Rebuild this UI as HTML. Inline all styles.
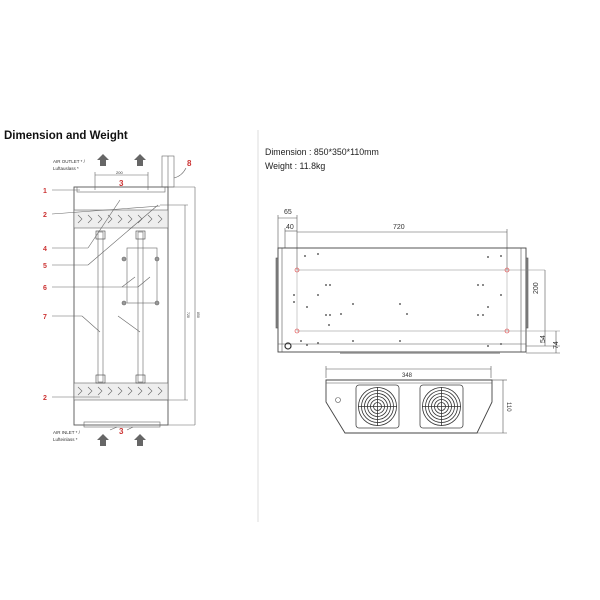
<!DOCTYPE html>
<html><head><meta charset="utf-8"><style>
html,body{margin:0;padding:0;background:#fff;}
svg{display:block;}
text{font-family:"Liberation Sans",sans-serif;}
</style></head><body>
<svg width="600" height="600" viewBox="0 0 600 600" xmlns="http://www.w3.org/2000/svg">
<rect width="600" height="600" fill="#fff"/>
<text x="4" y="139" font-size="11.5" font-weight="bold" fill="#111">Dimension and Weight</text>
<line x1="258" y1="130" x2="258" y2="522" stroke="#ddd" stroke-width="1"/>

<!-- LEFT DRAWING -->
<g stroke="#666" stroke-width="0.6" fill="none">
<text x="53" y="163" font-size="4.5" fill="#333" stroke="none">AIR OUTLET * /</text>
<text x="53" y="170" font-size="4.5" fill="#333" stroke="none">Luftauslass *</text>
<polygon points="103,154 109,160 106,160 106,166 100,166 100,160 97,160" fill="#666" stroke="none"/>
<polygon points="140,154 146,160 143,160 143,166 137,166 137,160 134,160" fill="#666" stroke="none"/>
<line x1="95" y1="175" x2="148" y2="175"/><line x1="95" y1="172" x2="95" y2="190"/><line x1="148" y1="172" x2="148" y2="190"/>
<text x="116" y="174" font-size="4" fill="#333" stroke="none">200</text>
<text x="119" y="186" font-size="8" font-weight="bold" fill="#c33" stroke="none">3</text>
<text x="187" y="166" font-size="8" font-weight="bold" fill="#c33" stroke="none">8</text>
<rect x="162" y="156" width="12" height="31"/><line x1="168" y1="156" x2="168" y2="187"/>
<path d="M174,178 Q182,176 186,168"/>
<rect x="74" y="187" width="94" height="238" stroke="#555" stroke-width="0.9"/>
<rect x="77" y="187" width="88" height="5"/>
<rect x="84" y="422" width="76" height="5"/>
<rect x="74" y="210" width="94" height="18" fill="#eee"/>
<rect x="74" y="383" width="94" height="17" fill="#eee"/>
<path d="M78,215 l4,4 l-4,4 M88,215 l4,4 l-4,4 M98,215 l4,4 l-4,4 M108,215 l4,4 l-4,4 M118,215 l4,4 l-4,4 M128,215 l4,4 l-4,4 M138,215 l4,4 l-4,4 M148,215 l4,4 l-4,4 M158,215 l4,4 l-4,4"/>
<path d="M78,387 l4,4 l-4,4 M88,387 l4,4 l-4,4 M98,387 l4,4 l-4,4 M108,387 l4,4 l-4,4 M118,387 l4,4 l-4,4 M128,387 l4,4 l-4,4 M138,387 l4,4 l-4,4 M148,387 l4,4 l-4,4 M158,387 l4,4 l-4,4"/>
<rect x="98" y="232" width="5" height="150"/><rect x="138" y="232" width="5" height="150"/>
<rect x="96" y="231" width="9" height="8" stroke="#444"/><rect x="136" y="231" width="9" height="8" stroke="#444"/>
<rect x="96" y="375" width="9" height="8" stroke="#444"/><rect x="136" y="375" width="9" height="8" stroke="#444"/>
<rect x="127" y="248" width="30" height="55"/>
<circle cx="124" cy="259" r="2" fill="#999"/><circle cx="157" cy="259" r="2" fill="#999"/>
<circle cx="124" cy="303" r="2" fill="#999"/><circle cx="157" cy="303" r="2" fill="#999"/>
<line x1="52" y1="190" x2="80" y2="190"/>
<line x1="52" y1="214" x2="160" y2="206"/>
<line x1="52" y1="248" x2="88" y2="248"/><line x1="88" y1="248" x2="120" y2="200"/>
<line x1="52" y1="265" x2="88" y2="265"/><line x1="88" y1="265" x2="158" y2="205"/>
<line x1="52" y1="287" x2="138" y2="287"/><line x1="122" y1="287" x2="135" y2="277"/><line x1="138" y1="287" x2="150" y2="277"/>
<line x1="52" y1="316" x2="82" y2="316"/><line x1="82" y1="316" x2="100" y2="332"/><line x1="118" y1="316" x2="140" y2="332"/>
<line x1="52" y1="397" x2="100" y2="397"/>
<line x1="168" y1="187" x2="195" y2="187"/><line x1="168" y1="425" x2="195" y2="425"/>
<line x1="195" y1="187" x2="195" y2="425"/><line x1="185" y1="205" x2="185" y2="400"/>
<line x1="160" y1="205" x2="188" y2="205"/><line x1="150" y1="400" x2="188" y2="400"/>
<text x="0" y="0" font-size="3.5" fill="#333" stroke="none" transform="translate(187,312) rotate(90)">720</text>
<text x="0" y="0" font-size="3.5" fill="#333" stroke="none" transform="translate(197,312) rotate(90)">850</text>
<text x="119" y="434" font-size="8" font-weight="bold" fill="#c33" stroke="none">3</text>
<line x1="110" y1="430" x2="117" y2="427"/><line x1="127" y1="430" x2="133" y2="427"/>
<text x="53" y="434" font-size="4.5" fill="#333" stroke="none">AIR INLET * /</text>
<text x="53" y="441" font-size="4.5" fill="#333" stroke="none">Lufteinlass *</text>
<polygon points="103,434 109,440 106,440 106,446 100,446 100,440 97,440" fill="#666" stroke="none"/>
<polygon points="140,434 146,440 143,440 143,446 137,446 137,440 134,440" fill="#666" stroke="none"/>
</g>
<g font-size="7" font-weight="bold" fill="#c33">
<text x="43" y="193">1</text><text x="43" y="217">2</text><text x="43" y="251">4</text>
<text x="43" y="268">5</text><text x="43" y="290">6</text><text x="43" y="319">7</text><text x="43" y="400">2</text>
</g>

<!-- RIGHT -->
<text x="265" y="155" font-size="8.8" fill="#222">Dimension : 850*350*110mm</text>
<text x="265" y="169" font-size="8.8" fill="#222">Weight : 11.8kg</text>
<g stroke="#555" stroke-width="0.6" fill="none">
<text x="284" y="214" font-size="7" fill="#333" stroke="none">65</text>
<line x1="278" y1="218" x2="297" y2="218"/><line x1="278" y1="215" x2="278" y2="248"/>
<text x="286" y="229" font-size="7" fill="#333" stroke="none">40</text>
<line x1="285" y1="231" x2="297" y2="231"/><line x1="285" y1="228" x2="285" y2="248"/>
<line x1="297" y1="215" x2="297" y2="270"/>
<text x="393" y="229" font-size="7" fill="#333" stroke="none">720</text>
<line x1="297" y1="232" x2="507" y2="232"/><line x1="507" y1="229" x2="507" y2="270"/>
<rect x="278" y="248" width="248" height="104" stroke="#444" stroke-width="0.9"/>
<line x1="282" y1="248" x2="282" y2="352"/><line x1="521" y1="248" x2="521" y2="352"/>
<line x1="278" y1="344" x2="526" y2="344"/>
<rect x="276" y="258" width="2" height="70" fill="#888"/><rect x="526" y="258" width="2" height="70" fill="#888"/>
<line x1="297" y1="270" x2="545" y2="270" stroke="#888"/>
<line x1="297" y1="331" x2="560" y2="331" stroke="#888"/>
<line x1="297" y1="270" x2="297" y2="331" stroke="#aaa"/><line x1="507" y1="270" x2="507" y2="331" stroke="#aaa"/>
<circle cx="297" cy="270" r="2" stroke="#d33"/><circle cx="507" cy="270" r="2" stroke="#d33"/>
<circle cx="297" cy="331" r="2" stroke="#d33"/><circle cx="507" cy="331" r="2" stroke="#d33"/>
<line x1="526" y1="346" x2="560" y2="346"/><line x1="526" y1="353" x2="560" y2="353"/>
<line x1="545" y1="270" x2="545" y2="346"/><line x1="556" y1="331" x2="556" y2="353"/>
<text x="0" y="0" font-size="7" fill="#333" stroke="none" transform="translate(538,294) rotate(-90)">200</text>
<text x="0" y="0" font-size="7" fill="#333" stroke="none" transform="translate(545,343) rotate(-90)">54</text>
<text x="0" y="0" font-size="7" fill="#333" stroke="none" transform="translate(558,349) rotate(-90)">74</text>
<circle cx="288" cy="346" r="3" stroke="#333" stroke-width="1.2"/>
<line x1="340" y1="353" x2="500" y2="353" stroke="#999" stroke-width="1.5"/>
</g>
<g fill="#666">
<circle cx="305" cy="256" r="1"/><circle cx="318" cy="254" r="1"/><circle cx="488" cy="257" r="1"/><circle cx="501" cy="256" r="1"/>
<circle cx="326" cy="285" r="1"/><circle cx="330" cy="285" r="1"/><circle cx="478" cy="285" r="1"/><circle cx="483" cy="285" r="1"/>
<circle cx="318" cy="295" r="1"/><circle cx="501" cy="295" r="1"/><circle cx="294" cy="295" r="1"/><circle cx="294" cy="302" r="1"/>
<circle cx="307" cy="307" r="1"/><circle cx="353" cy="304" r="1"/><circle cx="400" cy="304" r="1"/><circle cx="488" cy="307" r="1"/>
<circle cx="326" cy="315" r="1"/><circle cx="330" cy="315" r="1"/><circle cx="478" cy="315" r="1"/><circle cx="483" cy="315" r="1"/>
<circle cx="341" cy="314" r="1"/><circle cx="407" cy="314" r="1"/><circle cx="329" cy="325" r="1"/>
<circle cx="301" cy="341" r="1"/><circle cx="307" cy="345" r="1"/><circle cx="318" cy="343" r="1"/><circle cx="353" cy="341" r="1"/><circle cx="400" cy="341" r="1"/><circle cx="488" cy="346" r="1"/><circle cx="501" cy="344" r="1"/>
</g>
<!-- bottom view -->
<g stroke="#555" stroke-width="0.6" fill="none">
<line x1="326" y1="369" x2="491" y2="369"/><line x1="326" y1="366" x2="326" y2="378"/><line x1="491" y1="366" x2="491" y2="378"/>
<text x="402" y="377" font-size="6" fill="#333" stroke="none">348</text>
<polygon points="326,380 492,380 492,402 477,433 345,433 326,402" stroke="#444" stroke-width="0.9"/>
<line x1="326" y1="383" x2="492" y2="383"/>
<line x1="492" y1="380" x2="507" y2="380"/><line x1="477" y1="433" x2="507" y2="433"/>
<line x1="503" y1="380" x2="503" y2="433"/>
<text x="0" y="0" font-size="6" fill="#333" stroke="none" transform="translate(507,402) rotate(90)">110</text>
<circle cx="338" cy="400" r="2.5"/>
<g id="fan" stroke="#333" stroke-width="0.8">
<rect x="356" y="385" width="43" height="43" rx="3" stroke="#444"/>
<circle cx="377.5" cy="406.5" r="19"/><circle cx="377.5" cy="406.5" r="16"/><circle cx="377.5" cy="406.5" r="13"/><circle cx="377.5" cy="406.5" r="10"/><circle cx="377.5" cy="406.5" r="7"/><circle cx="377.5" cy="406.5" r="4"/>
<line x1="358" y1="406.5" x2="397" y2="406.5"/><line x1="377.5" y1="387" x2="377.5" y2="426"/>
</g>
<use href="#fan" x="64"/>
</g>
</svg>
</body></html>
